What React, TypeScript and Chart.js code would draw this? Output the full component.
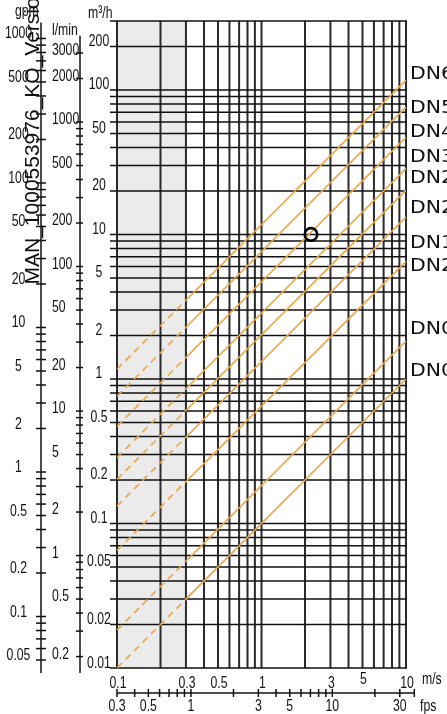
import React, { useEffect, useRef } from 'react';
import { Chart, registerables } from 'chart.js';

Chart.register(...registerables);

// ---- data ----
const velocityGrid = [0.1, 0.2, 0.3, 0.4, 0.5, 0.6, 0.7, 0.8, 0.9, 1, 2, 3, 4, 5, 6, 7, 8, 9, 10];
const velocityLabels = [0.1, 0.3, 0.5, 1, 3, 5, 10];
const flowLabels = [200, 100, 50, 20, 10, 5, 2, 1, 0.5, 0.2, 0.1, 0.05, 0.02, 0.01];
const gpmLabels = [1000, 500, 200, 100, 50, 20, 10, 5, 2, 1, 0.5, 0.2, 0.1, 0.05];
const lminLabels = [3000, 2000, 1000, 500, 200, 100, 50, 20, 10, 5, 2, 1, 0.5, 0.2];
const fpsLabels = [0.3, 0.5, 1, 3, 5, 10, 30];

const pipeNames = ['DN65', 'DN50', 'DN40', 'DN32', 'DN25', 'DN20', 'DN15', 'DN20', 'DN08', 'DN06'];
const pipeLabelFlows = [132, 76, 52, 35, 25, 15.5, 8.9, 6.1, 2.25, 1.16];
// flow (m³/h) of each pipe line at 0.1 m/s and at 10 m/s
const pipeFlowAtMin = [1.17, 0.76, 0.47, 0.286, 0.202, 0.132, 0.065, 0.0183, 0.01];
const pipeFlowAtMax = [117, 76, 47, 28.6, 20.2, 13.2, 6.5, 1.83, 1.0];

const markerVelocity = [2.2];
const markerFlow = [10];

const V_MIN = 0.1;
const V_MAX = 10;
const Q_MIN = 0.01;
const Q_MAX = 300;
const SLOW_LIMIT = 0.3;
const FPS_MIN = 0.348;
const FPS_MAX = 33.2;
const FPS_AXIS_START = 0.3;
const FPS_AXIS_END = 38;
const GPM_PER_M3H = 4.4029;
const LMIN_PER_M3H = 16.667;
const GPM_AXIS_RANGE = [0.0407, 1290];
const LMIN_AXIS_RANGE = [0.154, 3950];

const ORANGE = '#f0a444';
const NUM_FONT = '17px "Liberation Sans", Arial, sans-serif';
const NUM_SCALE = 0.72;

function logTicks(min: number, max: number): number[] {
  const out: number[] = [];
  const k0 = Math.floor(Math.log10(min)) - 1;
  const k1 = Math.ceil(Math.log10(max)) + 1;
  for (let k = k0; k <= k1; k++) {
    for (let d = 1; d <= 9; d++) {
      const v = Number((d * Math.pow(10, k)).toPrecision(6));
      if (v >= min * 0.9999 && v <= max * 1.0001) out.push(v);
    }
  }
  return out;
}

function txt(ctx: CanvasRenderingContext2D, s: string, x: number, y: number, align: CanvasTextAlign, font = NUM_FONT, sx = NUM_SCALE) {
  ctx.save();
  ctx.translate(x, y);
  ctx.scale(sx, 1);
  ctx.font = font;
  ctx.textAlign = align;
  ctx.textBaseline = 'alphabetic';
  ctx.fillStyle = '#111';
  ctx.fillText(s, 0, 0);
  ctx.restore();
}

const nomogram = {
  id: 'nomogram',
  beforeDatasetsDraw(chart: any) {
    const { ctx, chartArea: a, scales } = chart;
    const xs = scales.x;
    const ys = scales.y;
    ctx.save();
    // slow zone shading
    const x0 = xs.getPixelForValue(V_MIN);
    const x1 = xs.getPixelForValue(SLOW_LIMIT);
    ctx.fillStyle = '#ebebeb';
    ctx.fillRect(x0, a.top, x1 - x0, a.bottom - a.top);
    // vertical grid
    ctx.strokeStyle = '#2a2a2a';
    ctx.lineWidth = 2;
    for (const v of velocityGrid) {
      const x = xs.getPixelForValue(v);
      ctx.beginPath();
      ctx.moveTo(x, a.top);
      ctx.lineTo(x, a.bottom);
      ctx.stroke();
    }
    // horizontal grid (extends into left tick area)
    ctx.strokeStyle = '#111';
    ctx.lineWidth = 1.5;
    for (const q of logTicks(Q_MIN, Q_MAX)) {
      const y = ys.getPixelForValue(q);
      ctx.beginPath();
      ctx.moveTo(a.left - 7, y);
      ctx.lineTo(a.right + 1, y);
      ctx.stroke();
    }
    ctx.restore();
  },
  beforeDatasetDraw(chart: any, args: any) {
    const ds = chart.data.datasets[args.index];
    if (!ds.part) return;
    const { ctx, chartArea: a } = chart;
    const xs = chart.scales.x.getPixelForValue(SLOW_LIMIT);
    ctx.save();
    ctx.beginPath();
    if (ds.part === 'slow') ctx.rect(a.left, a.top, xs - a.left, a.bottom - a.top);
    else ctx.rect(xs, a.top, a.right - xs, a.bottom - a.top);
    ctx.clip();
  },
  afterDatasetDraw(chart: any, args: any) {
    const ds = chart.data.datasets[args.index];
    if (!ds.part) return;
    chart.ctx.restore();
  },
  afterDraw(chart: any) {
    const { ctx, chartArea: a, scales } = chart;
    const xs = scales.x;
    const ys = scales.y;
    const xf = scales.xf;
    ctx.save();
    ctx.strokeStyle = '#111';
    ctx.lineWidth = 1.5;

    // m³/h labels
    for (const q of flowLabels) {
      const y = ys.getPixelForValue(q);
      txt(ctx, String(q), 99, y - 0.5, 'center');
    }
    txt(ctx, 'm³/h', 88, 18, 'left');

    // gpm axis
    const gx = 41;
    const gTop = ys.getPixelForValue(GPM_AXIS_RANGE[1] / GPM_PER_M3H);
    const gBot = ys.getPixelForValue(GPM_AXIS_RANGE[0] / GPM_PER_M3H);
    ctx.beginPath();
    ctx.moveTo(gx, gTop);
    ctx.lineTo(gx, gBot);
    ctx.stroke();
    for (const g of logTicks(0.05, 1000)) {
      const y = ys.getPixelForValue(g / GPM_PER_M3H);
      ctx.beginPath();
      ctx.moveTo(gx - 5, y);
      ctx.lineTo(gx + 5, y);
      ctx.stroke();
    }
    for (const g of gpmLabels) {
      const y = ys.getPixelForValue(g / GPM_PER_M3H);
      txt(ctx, String(g), 18.5, y, 'center');
    }
    txt(ctx, 'gpm', 15, 16, 'left');

    // l/min axis
    const lx = 80;
    const lTop = ys.getPixelForValue(LMIN_AXIS_RANGE[1] / LMIN_PER_M3H);
    const lBot = ys.getPixelForValue(LMIN_AXIS_RANGE[0] / LMIN_PER_M3H);
    ctx.beginPath();
    ctx.moveTo(lx, lTop);
    ctx.lineTo(lx, lBot);
    ctx.stroke();
    for (const l of logTicks(0.2, 3000)) {
      const y = ys.getPixelForValue(l / LMIN_PER_M3H);
      ctx.beginPath();
      ctx.moveTo(lx - 4, y);
      ctx.lineTo(lx + 3, y);
      ctx.stroke();
    }
    for (const l of lminLabels) {
      const y = ys.getPixelForValue(l / LMIN_PER_M3H);
      txt(ctx, String(l), 52, y + 2, 'left');
    }
    txt(ctx, 'l/min', 52, 35, 'left');

    // m/s labels
    for (const v of velocityLabels) {
      const x = xs.getPixelForValue(v);
      txt(ctx, String(v), x + 1, v === 5 ? 684 : 688, 'center');
    }
    txt(ctx, 'm/s', 422, 684, 'left');

    // fps axis
    const fy = 693;
    const fx0 = xf.getPixelForValue(FPS_AXIS_START);
    const fx1 = xf.getPixelForValue(FPS_AXIS_END);
    ctx.beginPath();
    ctx.moveTo(fx0, fy);
    ctx.lineTo(fx1, fy);
    ctx.stroke();
    const fpsTicks = logTicks(FPS_AXIS_START, 30).concat([FPS_AXIS_END]);
    for (const f of fpsTicks) {
      const x = xf.getPixelForValue(f);
      ctx.beginPath();
      ctx.moveTo(x, fy - 4);
      ctx.lineTo(x, fy + 4);
      ctx.stroke();
    }
    for (const f of fpsLabels) {
      const x = xf.getPixelForValue(f);
      txt(ctx, String(f), x, 711, 'center');
    }
    txt(ctx, 'fps', 420, 711, 'left');

    // pipe labels
    for (let i = 0; i < pipeNames.length; i++) {
      const y = ys.getPixelForValue(pipeLabelFlows[i]);
      txt(ctx, pipeNames[i], a.right + 4, y + 6, 'left', '17px "DejaVu Sans", sans-serif', 1.2);
    }

    // vertical document stamp
    ctx.save();
    ctx.translate(39, 284.5);
    ctx.rotate(-Math.PI / 2);
    ctx.font = '21px "Liberation Sans", Arial, sans-serif';
    ctx.fillStyle = '#111';
    ctx.textAlign = 'left';
    ctx.textBaseline = 'alphabetic';
    ctx.fillText('MAN_1000553976_KO_Version', 0, 0);
    ctx.restore();

    ctx.restore();
  },
};

export default function App() {
  const ref = useRef<HTMLCanvasElement>(null);
  useEffect(() => {
    const canvas = ref.current;
    if (!canvas) return;
    const datasets: any[] = [
      {
        type: 'scatter',
        label: 'operating point',
        data: markerVelocity.map((v, i) => ({ x: v, y: markerFlow[i] })),
        pointRadius: 6.3,
        pointBorderWidth: 2.6,
        pointBorderColor: '#000',
        pointBackgroundColor: 'rgba(0,0,0,0)',
        showLine: false,
      },
    ];
    for (let i = 0; i < pipeFlowAtMax.length; i++) {
      const pts = [
        { x: V_MIN, y: pipeFlowAtMin[i] },
        { x: V_MAX, y: pipeFlowAtMax[i] },
      ];
      datasets.push({
        type: 'line',
        label: pipeNames[i] + ' slow',
        part: 'slow',
        data: pts,
        borderColor: ORANGE,
        borderWidth: 1.6,
        borderDash: [7, 5],
        pointRadius: 0,
        fill: false,
        tension: 0,
      });
      datasets.push({
        type: 'line',
        label: pipeNames[i],
        part: 'fast',
        data: pts,
        borderColor: ORANGE,
        borderWidth: 1.6,
        pointRadius: 0,
        fill: false,
        tension: 0,
      });
    }
    const chart = new Chart(canvas, {
      type: 'line',
      data: { datasets },
      options: {
        responsive: false,
        animation: false,
        devicePixelRatio: 1,
        layout: { padding: { left: 117, right: 41, top: 21, bottom: 46 } },
        plugins: { legend: { display: false }, tooltip: { enabled: false } },
        scales: {
          x: { type: 'logarithmic', min: V_MIN, max: V_MAX, display: false },
          xf: { type: 'logarithmic', axis: 'x', position: 'bottom', min: FPS_MIN, max: FPS_MAX, display: false },
          y: { type: 'logarithmic', min: Q_MIN, max: Q_MAX, display: false },
        },
      } as any,
      plugins: [nomogram as any],
    });
    return () => chart.destroy();
  }, []);
  return (
    <div style={{ position: 'absolute', left: 0, top: 0, width: 447, height: 714, background: '#fff' }}>
      <canvas ref={ref} width={447} height={714} style={{ display: 'block' }} />
    </div>
  );
}
